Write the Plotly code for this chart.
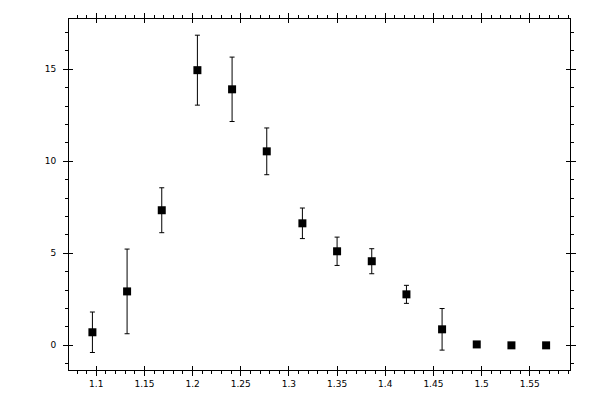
import plotly.graph_objects as go

# measured points
x_vals = [1.096, 1.132, 1.168, 1.205, 1.241, 1.277, 1.314,
          1.350, 1.386, 1.422, 1.459, 1.495, 1.531, 1.567]
y_vals = [0.71, 2.93, 7.34, 14.95, 13.91, 10.54, 6.63,
          5.11, 4.57, 2.77, 0.87, 0.05, 0.0, 0.0]
y_err = [1.1, 2.3, 1.22, 1.9, 1.75, 1.27, 0.83,
         0.77, 0.68, 0.49, 1.13, 0.05, 0.0, 0.0]

x_range = [1.0717, 1.5918]
y_range = [-1.34, 17.73]

fig = go.Figure()
fig.add_trace(go.Scatter(
    x=x_vals, y=y_vals, mode='markers',
    marker=dict(symbol='square', size=8, color='black'),
    error_y=dict(type='data', array=y_err, visible=True,
                 color='black', thickness=1, width=2.5),
    showlegend=False
))
# invisible trace so the overlay axes get drawn
fig.add_trace(go.Scatter(x=[None], y=[None], xaxis='x2', yaxis='y2',
                         showlegend=False, hoverinfo='skip'))

axis_common = dict(
    showgrid=False, zeroline=False, showline=True,
    linecolor='black', linewidth=1, mirror='ticks',
    ticks='outside', ticklen=5, tickwidth=1, tickcolor='black',
    tickfont=dict(family='DejaVu Sans', size=9, color='black'),
    automargin=False,
)

# page body has an 8px margin, so the figure is 8px smaller on each side
fig.update_layout(
    width=592, height=392,
    margin=dict(l=61, r=30, t=11, b=30),
    plot_bgcolor='white', paper_bgcolor='white',
    xaxis=dict(axis_common, range=x_range, dtick=0.05, tick0=1.0,
               minor=dict(dtick=0.01, ticks='outside', ticklen=3,
                          tickcolor='black', tickwidth=1)),
    yaxis=dict(axis_common, range=y_range, dtick=5, tick0=0,
               ticklabelstandoff=5,
               minor=dict(dtick=1, ticks='outside', ticklen=3,
                          tickcolor='black', tickwidth=1)),
    # overlays give the major ticks their inner half
    xaxis2=dict(overlaying='x', anchor='y', side='bottom', range=x_range,
                dtick=0.05, tick0=1.0, showgrid=False, zeroline=False,
                showline=True, linecolor='black', mirror='ticks',
                ticks='inside', ticklen=4, tickcolor='black',
                showticklabels=False),
    yaxis2=dict(overlaying='y', anchor='x', side='left', range=y_range,
                dtick=5, tick0=0, showgrid=False, zeroline=False,
                showline=True, linecolor='black', mirror='ticks',
                ticks='inside', ticklen=4, tickcolor='black',
                showticklabels=False),
)

fig.write_html("out.html")
